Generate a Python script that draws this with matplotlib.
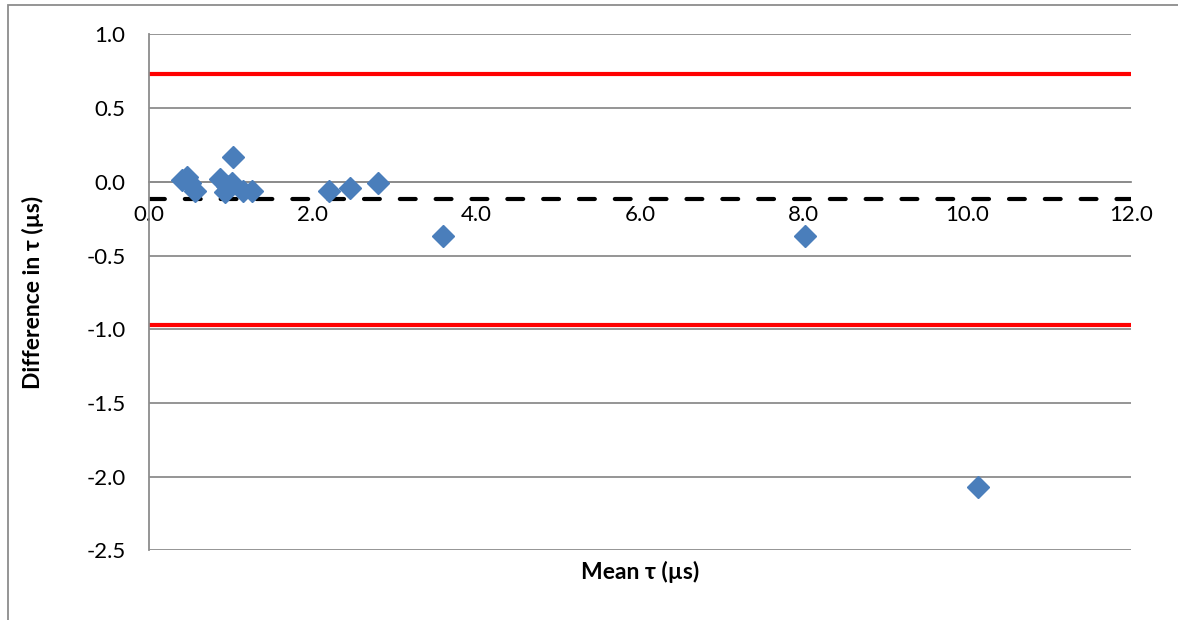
import matplotlib
matplotlib.use("Agg")
import matplotlib.pyplot as plt
from matplotlib.patches import Rectangle

plt.rcParams['font.family'] = ['Lato', 'DejaVu Sans']

# Bland-Altman data: mean tau vs difference in tau (us)
mean_tau = [0.40, 0.46, 0.50, 0.56, 0.87, 0.93, 0.95, 1.01, 1.03,
            1.15, 1.26, 2.20, 2.46, 2.80, 3.59, 8.02, 10.13]
diff_tau = [0.01, 0.03, -0.01, -0.06, 0.02, -0.07, -0.03, -0.01, 0.165,
            -0.065, -0.065, -0.065, -0.04, -0.01, -0.37, -0.37, -2.07]

mean_diff = -0.12
upper_loa = 0.73
lower_loa = -0.97

x_ticks = [0, 2, 4, 6, 8, 10, 12]
y_ticks = [1.0, 0.5, 0.0, -0.5, -1.0, -1.5, -2.0, -2.5]

grey = '#8c8c8c'
fig = plt.figure(figsize=(11.78, 6.2), dpi=100)
ax = fig.add_axes([0.1265, 0.1121, 0.8335, 0.8326])

for y in y_ticks:
    ax.axhline(y, color=grey, lw=1.3, zorder=1)

ax.axhline(upper_loa, color='#ff0000', lw=3, zorder=2)
ax.axhline(lower_loa, color='#ff0000', lw=3, zorder=2)
ax.axhline(mean_diff, color='black', lw=3, ls=(0, (3.8, 4.8)),
           dash_capstyle='round', zorder=2)

ax.plot(mean_tau, diff_tau, 'D', color='#4a7ebb', ms=11, mec='#4a7ebb', zorder=3)

ax.set_xlim(0, 12)
ax.set_ylim(-2.5, 1.0)
ax.set_xticks(x_ticks)
ax.set_xticklabels([f'{v:.1f}' for v in x_ticks])
ax.set_yticks(y_ticks)
ax.set_yticklabels([f'{v:.1f}' for v in y_ticks])

for s in ['top', 'right']:
    ax.spines[s].set_visible(False)
ax.spines['bottom'].set_position(('data', 0))
ax.spines['bottom'].set_color(grey)
ax.spines['left'].set_color(grey)
ax.spines['left'].set_linewidth(1.3)
ax.spines['bottom'].set_linewidth(1.3)
ax.tick_params(axis='both', length=0, labelsize=16, pad=17)

ax.set_xlabel('Mean τ (µs)', fontsize=16.5, fontweight='bold')
ax.set_ylabel('Difference in τ (µs)', fontsize=16.5, fontweight='bold')
ax.xaxis.set_label_coords(0.5, -0.02)
ax.yaxis.label.set_va('center')
ax.yaxis.set_label_coords(-0.118, 0.5)

# outer chart border
fig.patches.append(Rectangle((8 / 1178, -0.1), 1.2, 1 - 5 / 620 + 0.1,
                             transform=fig.transFigure, fill=False,
                             edgecolor=grey, lw=1.3))

fig.savefig('out.png', dpi=100)
